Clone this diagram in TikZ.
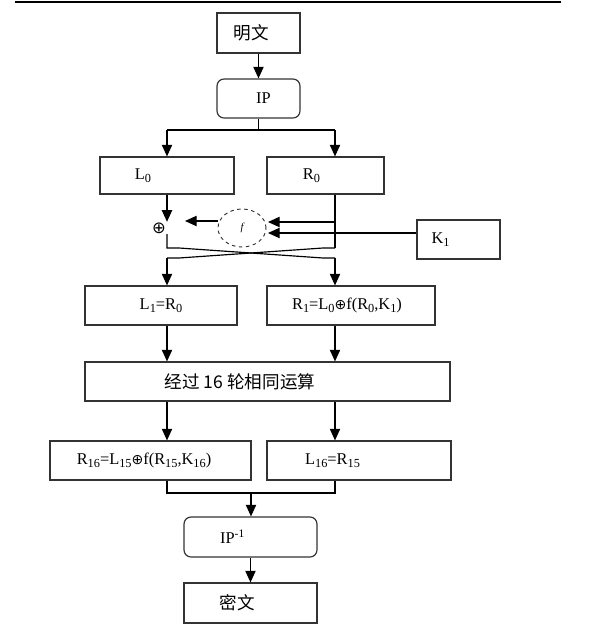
\documentclass[tikz,border=0pt]{standalone}
\usepackage{fontspec}
\setmainfont{Liberation Serif}
\newfontfamily\cjk{Noto Sans CJK SC}
\newfontfamily\symb{DejaVu Sans}
\usepackage{tikz}
\usetikzlibrary{shapes.geometric, arrows.meta, positioning, calc}
\usepackage{xcolor}
\definecolor{boxgray}{HTML}{333333}
\newcommand{\off}[1]{\hspace*{#1}}
\newcommand{\ssub}[1]{\raisebox{-0.4ex}{\fontsize{10.5}{11}\selectfont #1}}
\newcommand{\hanzi}{\cjk\fontsize{15}{17}\selectfont}
\newcommand{\xo}{{\symb\fontsize{12}{12}\selectfont ⊕}}

\begin{document}
\begin{tikzpicture}[x=0.03cm, y=-0.03cm,
    box/.style={draw=boxgray, line width=1pt, minimum height=1.17cm, inner sep=0pt, font=\fontsize{14}{16}\selectfont},
    rbox/.style={box, rounded corners=6pt},
    link/.style={draw=black, line width=1pt},
    arr/.style={link, -{Triangle[length=3.5mm, width=3.1mm]}}]
    \useasboundingbox (0,0) rectangle (605,635);
    % header rule
    \draw[line width=1.3pt] (15,2) -- (561,2);

    % column lines
    \coordinate (lc) at (167,0);
    \coordinate (rc) at (335,0);

    % boxes
    \node[box, minimum width=2.49cm, minimum height=1.2cm] (plain) at (258.5,33) {\off{-0.42cm}\hanzi 明文};
    \node[rbox, minimum width=2.49cm] (ip) at (258.5,98.5) {\off{0.3cm}IP};
    \node[box, minimum width=4.02cm, minimum height=1.11cm] (l0) at (167,175.5) {\off{-1.44cm}L\ssub{0}};
    \node[box, minimum width=3.51cm, minimum height=1.11cm] (r0) at (325.5,175.5) {\off{-0.84cm}R\ssub{0}};
    \node[inner sep=0.5pt, font=\symb\fontsize{14}{15}\selectfont] (xor) at (159,228) {⊕};
    \node[draw=boxgray, dashed, ellipse, line width=0.8pt, minimum width=1.44cm, minimum height=1.14cm, inner sep=0pt, font=\small\itshape] (f) at (242,228) {f};
    \node[box, minimum width=2.49cm] (k1) at (458.5,239.5) {\off{-1.08cm}\raisebox{-1ex}{K\ssub{1}}};
    \node[box, minimum width=4.56cm] (l1) at (161,305.5) {L\ssub{1}=R\ssub{0}};
    \node[box, minimum width=5.04cm] (r1) at (351,305.5) {\off{-0.24cm}R\ssub{1}=L\ssub{0}\xo f(R\ssub{0},K\ssub{1})};
    \node[box, minimum width=10.95cm] (rounds) at (267.5,381.5) {\off{-1.65cm}\hanzi 经过 16 轮相同运算};
    \node[box, minimum width=6.03cm] (r16) at (150.5,460.5) {\off{-0.39cm}R\ssub{16}=L\ssub{15}\xo f(R\ssub{15},K\ssub{16})};
    \node[box, minimum width=5.52cm] (l16) at (359,460.5) {\off{-1.59cm}L\ssub{16}=R\ssub{15}};
    \node[rbox, minimum width=3.99cm, minimum height=1.2cm] (ipinv) at (250.5,537) {\off{-1.08cm}IP\textsuperscript{-1}};
    \node[box, minimum width=3.99cm, minimum height=1.2cm] (cipher) at (250.5,603) {\off{-0.78cm}\hanzi 密文};

    % helper points
    \coordinate (split) at (258.5,130);
    \coordinate (xin) at (185,221);
    \coordinate (fin1) at (268,222);
    \coordinate (fin2) at (268,233);
    \coordinate (swl) at (167,248);
    \coordinate (swr) at (335,248);
    \coordinate (dwl) at (167,258);
    \coordinate (dwr) at (335,258);
    \coordinate (mrg) at (251,493);

    % top
    \draw[arr] (plain) -- (ip);
    \draw[link] (ip) -- (split);
    \draw[link] (lc |- split) -- (rc |- split);
    \draw[arr] (lc |- split) -- (l0.north -| lc);
    \draw[arr] (rc |- split) -- (r0.north -| rc);

    % round function
    \draw[arr] (l0.south -| lc) -- (lc |- xor.north);
    \draw[arr] (f.west |- xin) -- (xin);
    \draw[link] (r0.south -| rc) -- (swr);
    \draw[arr] (rc |- fin1) -- (fin1);
    \draw[arr] (k1.west |- fin2) -- (fin2);

    % swap
    \draw[link] (lc |- xor.south) -- (swl) -- ($(swl)+(12,0)$) -- ($(dwr)+(-12,0)$) -- (dwr);
    \draw[link] (swr) -- ($(swr)+(-12,0)$) -- ($(dwl)+(12,0)$) -- (dwl);
    \draw[arr] (dwl) -- (l1.north -| dwl);
    \draw[arr] (dwr) -- (r1.north -| dwr);

    % rounds
    \draw[arr] (l1.south -| lc) -- (rounds.north -| lc);
    \draw[arr] (r1.south -| rc) -- (rounds.north -| rc);
    \draw[arr] (rounds.south -| lc) -- (r16.north -| lc);
    \draw[arr] (rounds.south -| rc) -- (l16.north -| rc);

    % output
    \draw[link] (r16.south -| lc) -- (lc |- mrg) -- (rc |- mrg) -- (l16.south -| rc);
    \draw[arr] (mrg) -- (ipinv.north -| mrg);
    \draw[arr] (ipinv) -- (cipher);
\end{tikzpicture}
\end{document}
